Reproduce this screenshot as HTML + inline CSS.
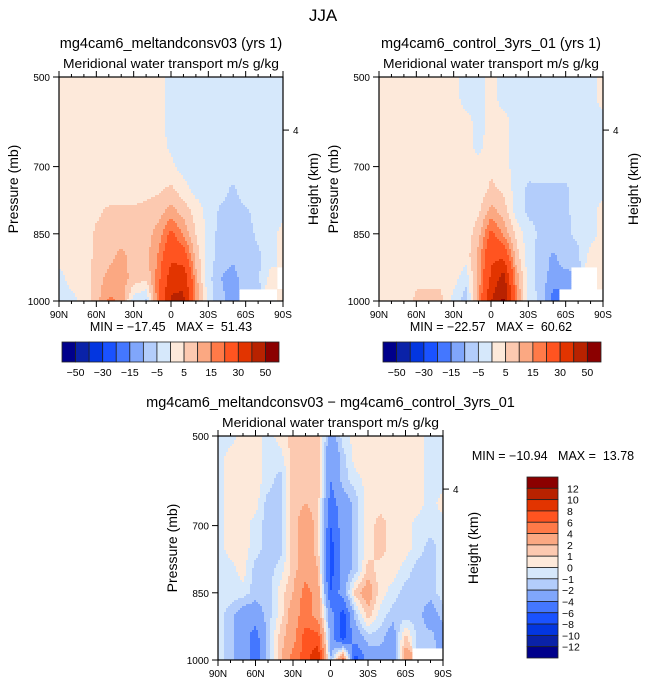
<!DOCTYPE html>
<html><head><meta charset="utf-8">
<style>
html,body{margin:0;padding:0;background:#fff;}
svg{display:block;font-family:"Liberation Sans",sans-serif;}
svg text{white-space:pre;}
</style></head>
<body>
<svg id="fig" width="647" height="684" viewBox="0 0 647 684" xmlns="http://www.w3.org/2000/svg">
<text x="323" y="21" font-size="17" text-anchor="middle" fill="#000">JJA</text>
</svg>
<script>
// ---- data ----
const latLabels = ["90N","60N","30N","0","30S","60S","90S"];
const pressureTicks = [500,700,850,1000];
const lats = [90,80,70,60,50,40,30,20,10,0,-10,-20,-30,-40,-50,-60,-70,-80,-90];
const pressures = [500,550,600,650,700,750,800,850,900,950,1000];
const levelsTop = [-50,-40,-30,-20,-15,-10,-5,0,5,10,15,20,30,40,50];
const levelsTopLabels = ["-50","-30","-15","-5","5","15","30","50"];
const levelsDiff = [-12,-10,-8,-6,-4,-2,-1,0,1,2,4,6,8,10,12];
const levelsDiffLabels = ["12","10","8","6","4","2","1","0","-1","-2","-4","-6","-8","-10","-12"];
const colors = ["#00008b","#0a22a8","#0336e0","#1a52ff","#4477ff","#80a6fb","#b3cdfb","#d6e8fb","#fde9da","#fcc9b0","#fba882","#ff7a48","#ff5420","#e23400","#b82200","#8b0000"];
const p1Values = [
[2,2,2,2,2,2,2,2,2,-2,-2,-2,-2,-2,-2,-2,-2,-2,-2],
[2,2,2,2,2,2,2,2,2,-2,-2,-2,-2,-2,-2,-2,-2,-2,-2],
[2,2,2,2,2,2,2,2,2,-2,-2,-2,-2,-2,-2,-2,-2,-2,-2],
[2,2,2,2,2,2,2,2,2,-1,-2,-2,-2,-2,-2,-2,-2,-2,-2],
[2,2,2,2,2,2,2,2,2,1,-2,-2,-2,-2,-2,-2,-2,-2,-2],
[2,2,2,2,2,2,2,3,4,6,2,-2,-2,-3,-6,-2,-2,-2,-2],
[2,2,2,4,6,6,6,7,8,12,8,3,-2,-6,-7,-6,-3,-2,-2],
[2,2,2,6,7,7,7,8,12,22,14,5,-2,-7,-7,-7,-4,-2,2],
[2,2,3,6,8,12,7,8,16,28,25,8,-2,-8,-9,-7,-6,-2,2],
[-2,2,2,7,12,13,8,6,18,35,38,12,-3,-10,-12,-7,-6,2,null],
[-2,-2,2,8,16,14,-3,-6,20,42,42,15,-3,-8,-14,null,null,null,2]];
const p2Values = [
[2,2,2,2,2,2,2,-2,-2,2,-2,-2,-2,-2,-2,-2,-2,-2,2],
[2,2,2,2,2,2,2,-2,-2,2,-2,-2,-2,-2,-2,-2,-2,-2,2],
[2,2,2,2,2,2,2,2,-2,2,2,-2,-2,-2,-2,-2,-2,-2,-2],
[2,2,2,2,2,2,2,2,-2,3,2,-2,-2,-2,-2,-2,-2,-2,-2],
[2,2,2,2,2,2,2,2,2,4,2,-2,-3,-2,-2,-2,-2,-2,-2],
[2,2,2,3,3,3,2,2,2,6,4,-2,-6,-6,-6,-6,-2,-2,-2],
[2,2,2,4,4,4,2,2,4,12,8,-2,-6,-6,-6,-6,-3,-2,2],
[2,2,2,4,4,4,3,2,8,22,14,4,-3,-6,-6,-6,-4,-2,2],
[2,2,2,4,4,4,3,2,12,28,28,8,-3,-7,-11,-7,-6,2,2],
[2,2,2,4,4,4,2,-3,12,32,45,14,-2,-8,-12,-12,null,null,2],
[2,2,2,6,6,6,-2,-8,14,40,52,18,-2,-6,-18,null,null,null,null]];
const p3Values = [
[-0.5,-0.5,0.5,0.5,-0.5,0.5,1.5,1.5,2,-3,-0.5,0.5,0.5,0.5,0.5,0.5,0.5,-0.5,-0.5],
[-0.5,0.5,0.5,0.5,-0.5,-0.5,1.5,1.5,1.5,-4,-1.5,0.5,0.5,0.5,0.5,0.5,0.5,-0.5,-0.5],
[-0.5,0.5,0.5,0.5,-0.5,-1.5,1.5,2,1.5,-4,-1.5,-0.5,0.5,0.5,0.5,0.5,0.5,-0.5,-0.5],
[-0.5,0.5,0.5,0.5,-1.5,-1.5,1.5,2,1.5,-5,-3,-1.5,0.5,0.5,0.5,0.5,0.5,-0.5,0.5],
[-0.5,0.5,0.5,-0.5,-1.5,-1.5,1.5,3,1.5,-6,-3,-1.5,0.5,1.5,0.5,0.5,-0.5,-0.5,-0.5],
[-0.5,0.5,0.5,-0.5,-1.5,-1.5,1.5,3,1.5,-7,-3,-1.5,0.5,1.5,0.5,0.5,-0.5,-1.5,-0.5],
[-0.5,-0.5,0.5,-1.5,-1.5,-0.5,1.5,3,2,-7,-3,-1.5,1.5,0.5,0.5,-0.5,-1.5,-1.5,-0.5],
[-0.5,-0.5,-0.5,-1.5,-1.5,0.5,2,5,3,-6,-3,1.5,3,0.5,-0.5,-1.5,-1.5,-1.5,-0.5],
[-0.5,-1.5,-3,-3,-1.5,0.5,3,5,3,-3,-7,-1.5,1.5,-0.5,-1.5,-1.5,-1.5,-3,-1.5],
[-0.5,-1.5,-3,-5,-1.5,1.5,3,7,7,-3,-7,-3,-1.5,-1.5,-3,1.5,-1.5,-1.5,-3],
[-0.5,-1.5,-3,-5,-1.5,1.5,5,7,10,-2,5,-7,-3,-3,-3,3,null,null,null]];

const NS = "http://www.w3.org/2000/svg";
const fig = document.getElementById("fig");
function mk(tag, attrs, parent){
  const e = document.createElementNS(NS, tag);
  for (const k in attrs) e.setAttribute(k, attrs[k]);
  (parent||fig).appendChild(e);
  return e;
}
function colorIndex(v, levels){
  let i = 0; while (i < levels.length && v >= levels[i]) i++; return i;
}
function drawPanel(opt){
  const {x0,y0,W,H,values,levels,title,name} = opt;
  const g = mk("g",{});
  
  
  const xScale = lat => x0 + (90 - lat) / 180 * W;
  const yScale = p => y0 + (p - 500) / 500 * H;
  const nC = lats.length - 1, nR = pressures.length - 1;
  const step = 2;
  for (let py = 0; py < H; py += step){
    const fr = (py + step/2) / H * nR;
    const r0 = Math.min(Math.floor(fr), nR-1), tr = fr - r0;
    let runStart = null, runColor = null;
    const flush = (endX) => {
      if (runColor !== null){
        const c = mk("rect",{x:x0+runStart, y:y0+py, width:endX-runStart+0.4, height:step+0.4, fill:runColor}, g);
        
        
      }
    };
    for (let px = 0; px < W; px += step){
      const fc = (px + step/2) / W * nC;
      const c0 = Math.min(Math.floor(fc), nC-1), tc = fc - c0;
      const nr = Math.round(fr), nc = Math.round(fc);
      let col = null;
      if (values[nr][nc] !== null){
        const get = (r,c) => values[r][c] === null ? values[nr][nc] : values[r][c];
        const v = (1-tr)*((1-tc)*get(r0,c0)+tc*get(r0,c0+1)) + tr*((1-tc)*get(r0+1,c0)+tc*get(r0+1,c0+1));
        col = colors[colorIndex(v, levels)];
      }
      if (col !== runColor){ flush(px); runStart = px; runColor = col; }
    }
    flush(W);
  }
  const frame = mk("rect",{x:x0,y:y0,width:W,height:H,fill:"none",stroke:"#000","stroke-width":1.2}, g);
  
  
  for (let lat = 90; lat >= -90; lat -= 10){
    const x = xScale(lat), major = lat % 30 === 0;
    const L = major ? 6 : 3;
    mk("line",{x1:x,x2:x,y1:y0+H,y2:y0+H+L,stroke:"#000","stroke-width":1}, g);
    mk("line",{x1:x,x2:x,y1:y0,y2:y0-L,stroke:"#000","stroke-width":1}, g);
  }
  latLabels.forEach((lab,i) => {
    const t = mk("text",{x:xScale(90 - i*30), y:y0+H+17, "font-size":10, "text-anchor":"middle"}, g);
    t.textContent = lab;
    
    
  });
  pressureTicks.forEach(p => {
    const y = yScale(p);
    mk("line",{x1:x0,x2:x0-6,y1:y,y2:y,stroke:"#000","stroke-width":1}, g);
    const t = mk("text",{x:x0-9, y:y+4, "font-size":10, "text-anchor":"end"}, g);
    t.textContent = p;
    
    
  });
  const hy = y0 + 0.237*H;
  mk("line",{x1:x0+W,x2:x0+W+6,y1:hy,y2:hy,stroke:"#000","stroke-width":1}, g);
  const h4 = mk("text",{x:x0+W+10, y:hy+4, "font-size":10}, g);
  h4.textContent = "4";
  
  
  const tt = mk("text",{x:x0+W/2, y:y0-29, "font-size":14.5, "text-anchor":"middle"}, g);
  tt.textContent = title;
  
  
  const st = mk("text",{x:x0+W/2, y:y0-9, "font-size":13, "text-anchor":"middle", textLength:W-8, lengthAdjust:"spacingAndGlyphs"}, g);
  st.textContent = "Meridional water transport m/s g/kg";
  
  
  const yl = mk("text",{x:0,y:0,"font-size":14,"text-anchor":"middle",transform:`translate(${x0-41},${y0+H/2}) rotate(-90)`}, g);
  yl.textContent = "Pressure (mb)";
  
  
  const hl = mk("text",{x:0,y:0,"font-size":14,"text-anchor":"middle",transform:`translate(${x0+W+35},${y0+H/2}) rotate(-90)`}, g);
  hl.textContent = "Height (km)";
  
  
}
function hColorbar(x0,y0,W,H,name){
  const g = mk("g",{});
  
  
  const w = W/colors.length;
  colors.forEach((c,i) => {
    const r = mk("rect",{x:x0+i*w,y:y0,width:w,height:H,fill:c,stroke:"#222","stroke-width":0.8}, g);
    
    
  });
  levelsTopLabels.forEach((lab,k) => {
    const t = mk("text",{x:x0+(2*k+1)*w, y:y0+H+14, "font-size":10.5, "text-anchor":"middle"}, g);
    t.textContent = lab.replace("-","\u2212");
    
    
  });
}
function vColorbar(x0,y0,W,H,name){
  const g = mk("g",{});
  
  
  const h = H/colors.length;
  colors.slice().reverse().forEach((c,i) => {
    const r = mk("rect",{x:x0,y:y0+i*h,width:W,height:h,fill:c,stroke:"#222","stroke-width":0.8}, g);
    
    
  });
  levelsDiffLabels.forEach((lab,k) => {
    const t = mk("text",{x:lab.startsWith("-")?x0+W+4:x0+W+9, y:y0+(k+1)*h+4, "font-size":10.5}, g);
    t.textContent = lab.replace("-","\u2212");
    
    
  });
}
function label(x,y,txt,name,anchor){
  const t = mk("text",{x:x,y:y,"font-size":12.5,"text-anchor":anchor||"middle"});
  t.textContent = txt;
  
  
}
drawPanel({x0:59,y0:77,W:224,H:224,values:p1Values,levels:levelsTop,title:"mg4cam6_meltandconsv03 (yrs 1)",name:"panel-meltandconsv03"});
drawPanel({x0:379,y0:77,W:224,H:224,values:p2Values,levels:levelsTop,title:"mg4cam6_control_3yrs_01 (yrs 1)",name:"panel-control"});
drawPanel({x0:218,y0:436,W:225,H:224,values:p3Values,levels:levelsDiff,title:"mg4cam6_meltandconsv03 \u2212 mg4cam6_control_3yrs_01",name:"panel-difference"});
label(171,331,"MIN = \u221217.45   MAX =  51.43","minmax-panel1");
label(491,331,"MIN = \u221222.57   MAX =  60.62","minmax-panel2");
label(553,460,"MIN = \u221210.94   MAX =  13.78","minmax-panel3");
hColorbar(62,342,217,20,"colorbar-panel1");
hColorbar(383,342,218,20,"colorbar-panel2");
vColorbar(527,477,31,181,"colorbar-difference");
</script>
</body></html>
